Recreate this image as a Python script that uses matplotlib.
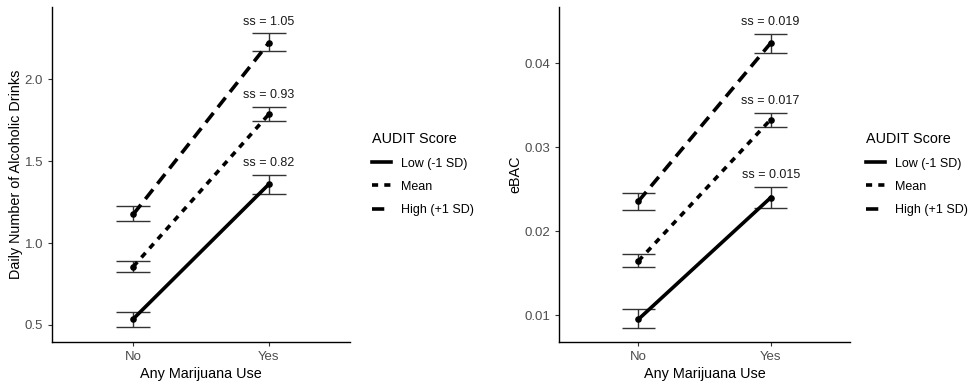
import matplotlib.pyplot as plt
import numpy as np

plt.rcParams['font.family'] = ['Liberation Sans', 'DejaVu Sans']

# --- Data ---
groups = ['No', 'Yes']
levels = ['Low (-1 SD)', 'Mean', 'High (+1 SD)']

# Daily drinks: estimates and error bar limits (No, Yes)
drinks_est = {'Low (-1 SD)': [0.537, 1.358], 'Mean': [0.856, 1.785], 'High (+1 SD)': [1.175, 2.221]}
drinks_lo = {'Low (-1 SD)': [0.486, 1.300], 'Mean': [0.825, 1.745], 'High (+1 SD)': [1.134, 2.170]}
drinks_hi = {'Low (-1 SD)': [0.580, 1.415], 'Mean': [0.892, 1.830], 'High (+1 SD)': [1.224, 2.280]}
drinks_ss = {'Low (-1 SD)': 'ss = 0.82', 'Mean': 'ss = 0.93', 'High (+1 SD)': 'ss = 1.05'}

# eBAC
bac_est = {'Low (-1 SD)': [0.00952, 0.0240], 'Mean': [0.01646, 0.0333], 'High (+1 SD)': [0.02357, 0.0424]}
bac_lo = {'Low (-1 SD)': [0.0085, 0.0228], 'Mean': [0.0158, 0.0324], 'High (+1 SD)': [0.0225, 0.0412]}
bac_hi = {'Low (-1 SD)': [0.0107, 0.0253], 'Mean': [0.01726, 0.0341], 'High (+1 SD)': [0.02457, 0.0435]}
bac_ss = {'Low (-1 SD)': 'ss = 0.015', 'Mean': 'ss = 0.017', 'High (+1 SD)': 'ss = 0.019'}

styles = {'Low (-1 SD)': '-', 'Mean': (0, (1.7, 1.7)), 'High (+1 SD)': (0, (3.4, 2.0))}

fig = plt.figure(figsize=(9.72, 3.87), dpi=100)
ax1 = fig.add_axes([52 / 972, 45 / 387, 298 / 972, 335 / 387])
ax2 = fig.add_axes([559 / 972, 45 / 387, 291 / 972, 335 / 387])

x = np.arange(1, len(groups) + 1)


def panel(ax, est, lo, hi, ss, ylim, yticks, ylabel, fmt):
    for lev in levels:
        e = np.array(est[lev])
        l = np.array(lo[lev])
        h = np.array(hi[lev])
        ax.plot(x, e, color='black', linestyle=styles[lev], linewidth=2.6,
                dash_capstyle='butt', label=lev, zorder=3)
        ax.scatter(x, e, color='black', s=14, zorder=4)
        ax.vlines(x, l, h, color='#333333', linewidth=1.0, zorder=2)
        for xi, li, hi_ in zip(x, l, h):
            ax.hlines([li, hi_], xi - 0.125, xi + 0.125, color='#333333', linewidth=1.0, zorder=2)
        ax.annotate(ss[lev], xy=(x[1], h[1]), xytext=(0, 4), textcoords='offset points',
                    ha='center', va='bottom', fontsize=9, color='#1a1a1a')
    ax.set_xlim(0.4, 2.6)
    ax.set_ylim(*ylim)
    ax.set_xticks(x)
    ax.set_xticklabels(groups)
    ax.set_yticks(yticks)
    ax.set_yticklabels([fmt.format(v) for v in yticks])
    ax.tick_params(colors='#333333', labelcolor='#4D4D4D', labelsize=9.5, length=3, width=0.8)
    for s in ['top', 'right']:
        ax.spines[s].set_visible(False)
    for s in ['left', 'bottom']:
        ax.spines[s].set_linewidth(1.0)
    ax.set_xlabel('Any Marijuana Use', fontsize=10.4, labelpad=3)
    ax.set_ylabel(ylabel, fontsize=10.4, labelpad=1)


panel(ax1, drinks_est, drinks_lo, drinks_hi, drinks_ss, (0.396, 2.44),
      [0.5, 1.0, 1.5, 2.0], 'Daily Number of Alcoholic Drinks', '{:.1f}')
panel(ax2, bac_est, bac_lo, bac_hi, bac_ss, (0.00682, 0.0467),
      [0.01, 0.02, 0.03, 0.04], 'eBAC', '{:.2f}')

for ax, xpos in [(ax1, 361 / 972), (ax2, 855 / 972)]:
    h, l = ax.get_legend_handles_labels()
    leg = fig.legend(h, l, title='AUDIT Score', loc='upper left',
                     bbox_to_anchor=(xpos, 1 - 121 / 387), frameon=False,
                     fontsize=9, title_fontsize=10.4, handlelength=1.52,
                     handletextpad=0.8, labelspacing=0.9)
    leg._legend_box.align = 'left'

fig.savefig('out.png', dpi=100)
